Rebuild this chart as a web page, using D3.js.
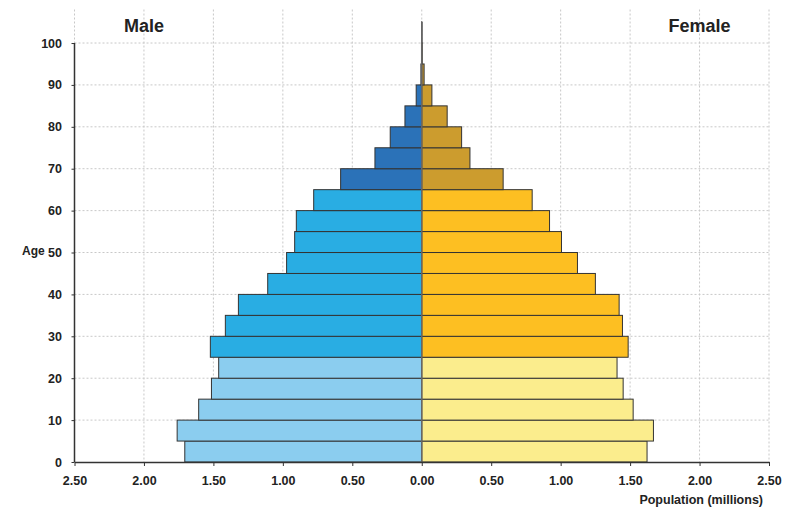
<!DOCTYPE html>
<html><head><meta charset="utf-8">
<script src="https://cdn.jsdelivr.net/npm/d3@7"></script>
<style>body{margin:0;background:#fff}text{font-family:"Liberation Sans",Arial,sans-serif;font-weight:bold;fill:#222}</style>
</head><body>
<svg id="c" width="785" height="508"></svg>
<script>
const ageStarts = [0,5,10,15,20,25,30,35,40,45,50,55,60,65,70,75,80,85,90,95,100];
const male   = [1.706,1.761,1.606,1.514,1.462,1.522,1.414,1.320,1.109,0.973,0.915,0.903,0.778,0.584,0.337,0.227,0.121,0.040,0.006,0.002,0.001];
const female = [1.622,1.668,1.522,1.450,1.406,1.486,1.445,1.421,1.250,1.121,1.006,0.920,0.795,0.586,0.347,0.287,0.183,0.073,0.017,0.003,0.001];
const xTicks = [-2.5,-2,-1.5,-1,-0.5,0,0.5,1,1.5,2,2.5];
const yTicks = [0,10,20,30,40,50,60,70,80,90,100];
const maleColors = {young:"#8bcdef", mid:"#29ade3", old:"#2b72b8"};
const femaleColors = {young:"#fbed8d", mid:"#fdbf22", old:"#cc9c2e"};

const svg = d3.select("#c");
const x = d3.scaleLinear().domain([-2.5,2.5]).range([74.5,769]);
const y = d3.scaleLinear().domain([0,108]).range([462,9.5]);
const group = a => a < 25 ? "young" : (a < 65 ? "mid" : "old");

// grid
const g = svg.append("g");
g.selectAll(".vg").data(xTicks).join("line")
  .attr("x1",d=>x(d)).attr("x2",d=>x(d)).attr("y1",y(108)).attr("y2",y(0))
  .attr("stroke","#c8c8c8").attr("stroke-dasharray","2,2");
g.selectAll(".hg").data(yTicks.slice(1)).join("line")
  .attr("x1",x(-2.5)).attr("x2",x(2.5)).attr("y1",d=>y(d)).attr("y2",d=>y(d))
  .attr("stroke","#c8c8c8").attr("stroke-dasharray","2,2");

// bars
const rows = ageStarts.map((a,i)=>({a, m:male[i], f:female[i]}));
svg.append("g").selectAll("rect").data(rows).join("rect")
  .attr("x",d=>x(-d.m)).attr("width",d=>x(0)-x(-d.m))
  .attr("y",d=>y(d.a+5)).attr("height",d=>y(d.a)-y(d.a+5))
  .attr("fill",d=>maleColors[group(d.a)]).attr("stroke","#333").attr("stroke-width",1);
svg.append("g").selectAll("rect").data(rows).join("rect")
  .attr("x",x(0)).attr("width",d=>x(d.f)-x(0))
  .attr("y",d=>y(d.a+5)).attr("height",d=>y(d.a)-y(d.a+5))
  .attr("fill",d=>femaleColors[group(d.a)]).attr("stroke","#333").attr("stroke-width",1);

// zero line
svg.append("line").attr("x1",x(0)).attr("x2",x(0)).attr("y1",y(105)).attr("y2",y(0))
  .attr("stroke","#666").attr("stroke-width",1.5);

// axes
const xa = svg.append("g").attr("transform",`translate(0,${y(0)})`)
  .call(d3.axisBottom(x).tickValues(xTicks).tickSize(4).tickSizeOuter(0).tickFormat(d=>Math.abs(d).toFixed(2)));
xa.select(".domain").attr("stroke","#333").attr("stroke-width",1.5);
xa.selectAll(".tick line").attr("stroke","#333");
xa.selectAll("text").attr("font-size",12.5).attr("dy","1.25em").style("font-family","Liberation Sans, Arial").style("font-weight","bold").attr("fill","#222");

const ya = svg.append("g").attr("transform",`translate(${x(-2.5)},0)`)
  .call(d3.axisLeft(y).tickValues(yTicks).tickSize(3).tickSizeOuter(0));
ya.select(".domain").attr("stroke","#333").attr("stroke-width",1.5).attr("d",`M0,${y(100)}V${y(0)}`);
ya.selectAll(".tick line").attr("stroke","#333");
ya.selectAll("text").attr("font-size",12.5).attr("x",-12.5).style("font-family","Liberation Sans, Arial").style("font-weight","bold").attr("fill","#222");

// titles
svg.append("text").attr("x",x(-2)).attr("y",31.5).attr("text-anchor","middle").attr("font-size",18).text("Male");
svg.append("text").attr("x",x(2)).attr("y",31.5).attr("text-anchor","middle").attr("font-size",18).text("Female");
svg.append("text").attr("x",22).attr("y",255).attr("font-size",12).text("Age");
svg.append("text").attr("x",763).attr("y",504).attr("text-anchor","end").attr("font-size",12.5).text("Population (millions)");
</script>
</body></html>
